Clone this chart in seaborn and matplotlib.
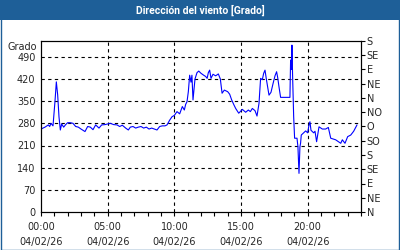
import matplotlib
matplotlib.use("Agg")
import matplotlib.pyplot as plt
from matplotlib.patches import Rectangle
import seaborn as sns
import pandas as pd

hours = [0.0, 0.3, 0.55, 0.65, 0.75, 0.9, 1.05, 1.15, 1.25, 1.35, 1.45, 1.55, 1.7, 1.85,
         2.0, 2.2, 2.4, 2.6, 2.8, 3.0, 3.3, 3.5, 3.7, 3.9, 4.1, 4.35, 4.55, 4.8, 5.0, 5.2,
         5.45, 5.7, 5.9, 6.1, 6.35, 6.55, 6.7, 6.9, 7.1, 7.3, 7.5, 7.7, 7.9, 8.1, 8.3, 8.5,
         8.7, 8.9, 9.1, 9.3, 9.45, 9.65, 9.83, 10.0, 10.2, 10.4, 10.6, 10.75, 10.85, 10.95,
         11.05, 11.15, 11.25, 11.32, 11.4, 11.55, 11.7, 11.83, 12.0, 12.2, 12.35, 12.46,
         12.55, 12.65, 12.75, 12.9, 13.1, 13.3, 13.45, 13.58, 13.75, 14.0, 14.15, 14.3,
         14.45, 14.6, 14.83, 15.1, 15.35, 15.55, 15.7, 15.85, 16.05, 16.2, 16.35, 16.47,
         16.6, 16.7, 16.8, 16.9, 17.0, 17.1, 17.25, 17.4, 17.55, 17.67, 17.75, 17.85,
         17.97, 18.3, 18.67, 18.72, 18.78, 18.82, 18.87, 18.95, 19.02, 19.2, 19.27, 19.35,
         19.42, 19.47, 19.52, 19.7, 19.85, 20.0, 20.1, 20.17, 20.25, 20.45, 20.55, 20.67,
         20.85, 21.1, 21.35, 21.55, 21.73, 22.1, 22.48, 22.6, 22.8, 23.0, 23.23, 23.45, 23.7]
degrees = [262, 268, 275, 270, 280, 272, 350, 411, 370, 300, 259, 278, 268, 276,
           282, 282, 280, 270, 268, 262, 254, 270, 268, 260, 275, 265, 275, 276, 278, 280,
           276, 275, 270, 274, 265, 259, 268, 270, 265, 268, 270, 265, 268, 262, 265, 262,
           259, 270, 272, 272, 275, 290, 301, 305, 317, 310, 333, 322, 340, 348,
           380, 432, 410, 432, 354, 420, 440, 445, 438, 432, 428, 422,
           440, 448, 422, 435, 430, 436, 420, 375, 385, 380, 372, 354,
           340, 327, 312, 324, 315, 322, 317, 327, 320, 303, 343, 422,
           418, 438, 448, 420, 395, 369, 378, 405, 430, 443, 425, 395,
           362, 362, 362, 480, 450, 527, 430, 301, 233, 233, 206, 122,
           206, 218, 243, 250, 256, 250, 275, 285, 258, 250, 255, 222,
           269, 262, 262, 267, 233, 228, 217, 228, 217, 238, 243, 255, 275]

x_ticks = [0, 5, 10, 15, 20]
x_labels = ["00:00\n04/02/26", "05:00\n04/02/26", "10:00\n04/02/26",
            "15:00\n04/02/26", "20:00\n04/02/26"]
y_ticks = [0, 70, 140, 210, 280, 350, 420, 490]
r_ticks = [0, 45, 90, 135, 180, 225, 270, 315, 360, 405, 450, 495, 540]
r_labels = ["N", "NE", "E", "SE", "S", "SO", "O", "NO", "N", "NE", "E", "SE", "S"]
title = "Dirección del viento [Grado]"
unit = "Grado"

sns.set_style("white")
plt.rcParams["font.family"] = ["DejaVu Sans"]
plt.rcParams["font.size"] = 7

FS = 7

fig = plt.figure(figsize=(4, 2.5), dpi=100)
fig.patch.set_facecolor("white")
ax = fig.add_axes([41/400, 1-212/250, 320/400, 171/250])

df = pd.DataFrame({"h": hours, "deg": degrees})
sns.lineplot(data=df, x="h", y="deg", ax=ax, color="#0000ff", linewidth=0.8)

ax.set_xlim(0, 24)
ax.set_ylim(0, 540)
ax.set_xticks(x_ticks)
ax.set_xticklabels(x_labels, fontsize=FS, linespacing=1.6)
ax.set_xticks(range(0, 25), minor=True)
ax.set_yticks(y_ticks)
ax.set_yticklabels([str(v) for v in y_ticks], fontsize=FS)
ax.set_xlabel("")
ax.set_ylabel("")
ax.tick_params(axis="x", which="both", direction="out", length=3, width=0.8,
               color="black", pad=4.5, bottom=True)
ax.tick_params(axis="y", which="both", direction="out", length=0, pad=4, left=True)
for s in ax.spines.values():
    s.set_color("black")
    s.set_linewidth(0.8)

for xv in x_ticks[1:]:
    ax.axvline(xv, color="black", linestyle=(0, (3, 3)), linewidth=0.8, zorder=0)
for yv in y_ticks[1:]:
    ax.axhline(yv, color="black", linestyle=(0, (3, 3)), linewidth=0.8, zorder=0)

ax2 = ax.twinx()
ax2.set_ylim(0, 540)
ax2.set_yticks(r_ticks)
ax2.set_yticklabels(r_labels, fontsize=FS)
ax2.tick_params(axis="y", direction="out", length=3, width=0.8, color="black", pad=1, right=True)
for s in ax2.spines.values():
    s.set_color("black")
    s.set_linewidth(0.8)

ax.text(-0.012, 522, unit, transform=ax.get_yaxis_transform(), ha="right", va="center",
        fontsize=FS)

fig.patches.append(Rectangle((0, 1-20/250), 1, 20/250, transform=fig.transFigure,
                             facecolor="#1e5f98", edgecolor="none", zorder=-1))
fig.patches.append(Rectangle((0.0015, 0.002), 0.997, 0.996, transform=fig.transFigure,
                             facecolor="none", edgecolor="#1e5f98", linewidth=1.0, zorder=-1))
fig.text(0.5, 1-10/250, title, ha="center", va="center", color="white",
         fontsize=7.5, fontweight="bold", family=["Roboto", "DejaVu Sans"])

fig.savefig("out.png", dpi=100)
